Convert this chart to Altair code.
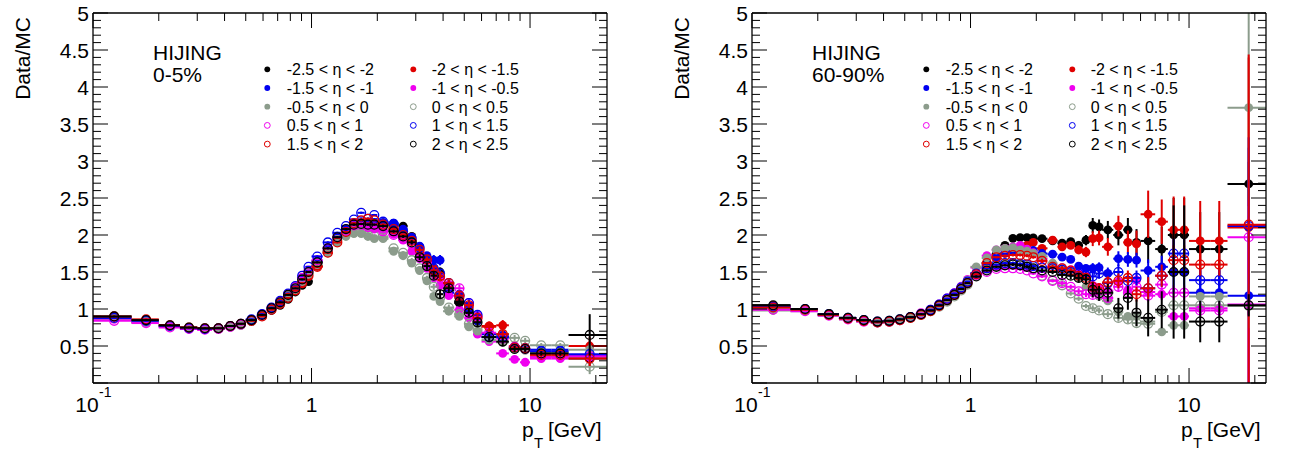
import altair as alt
import pandas as pd

# ---------------- data ----------------
PT_EDGES = [0.1, 0.15, 0.2, 0.25, 0.3, 0.35, 0.4, 0.45, 0.5,
            0.5625, 0.625, 0.6875, 0.75, 0.8125, 0.875, 0.9375, 1.0,
            1.125, 1.25, 1.375, 1.5, 1.625, 1.75, 1.875, 2.0,
            2.25, 2.5, 2.75, 3.0, 3.25, 3.5, 3.75, 4.0,
            4.5, 5.0, 5.5, 6.0, 7.0, 8.0, 9.0, 10.0, 12.5, 15.0, 22.5]

SERIES_LABELS = ["-2.5 < η < -2", "-2 < η < -1.5", "-1.5 < η < -1", "-1 < η < -0.5",
                 "-0.5 < η < 0", "0 < η < 0.5", "0.5 < η < 1", "1 < η < 1.5",
                 "1.5 < η < 2", "2 < η < 2.5"]

# ---- 0-5% panel (Data/MC) ----
L1 = [0.90, 0.85, 0.78, 0.74, 0.73, 0.73, 0.76, 0.79,
      0.83, 0.90, 0.98, 1.05, 1.13, 1.23, 1.32, 1.37,
      1.58, 1.78, 1.93, 2.05, 2.13, 2.16, 2.17, 2.16,
      2.15, 2.14, 2.12, 1.98, 1.72, 1.65, 1.45, 1.50,
      1.25, 1.08, 0.98, 0.84, 0.66, 0.62, 0.47, 0.46,
      0.40, 0.40, 0.33]
L2 = [0.89, 0.85, 0.78, 0.75, 0.74, 0.74, 0.76, 0.79,
      0.84, 0.90, 0.99, 1.07, 1.16, 1.25, 1.35, 1.44,
      1.58, 1.76, 1.92, 2.05, 2.14, 2.17, 2.17, 2.16,
      2.14, 2.10, 2.04, 1.97, 1.82, 1.68, 1.55, 1.44,
      1.33, 1.15, 1.02, 0.88, 0.77, 0.78, 0.50, 0.48,
      0.36, 0.36, 0.50]
L3 = [0.87, 0.83, 0.77, 0.73, 0.73, 0.73, 0.76, 0.79,
      0.84, 0.91, 1.00, 1.08, 1.17, 1.28, 1.40, 1.50,
      1.65, 1.83, 1.97, 2.07, 2.14, 2.16, 2.17, 2.17,
      2.17, 2.16, 2.08, 1.97, 1.85, 1.72, 1.66, 1.66,
      1.22, 1.20, 1.00, 0.84, 0.66, 0.65, 0.47, 0.46,
      0.45, 0.45, 0.38]
L4 = [0.86, 0.82, 0.76, 0.73, 0.72, 0.73, 0.75, 0.78,
      0.83, 0.90, 0.99, 1.08, 1.18, 1.29, 1.40, 1.50,
      1.62, 1.80, 1.94, 2.04, 2.10, 2.12, 2.10, 2.08,
      2.06, 2.01, 1.93, 1.78, 1.68, 1.55, 1.42, 1.32,
      1.18, 0.99, 0.88, 0.66, 0.56, 0.40, 0.32, 0.28,
      0.33, 0.33, 0.36]
L5 = [0.87, 0.82, 0.76, 0.74, 0.73, 0.73, 0.76, 0.78,
      0.83, 0.90, 0.99, 1.07, 1.16, 1.27, 1.38, 1.47,
      1.60, 1.76, 1.90, 1.98, 2.02, 2.02, 1.98, 1.95,
      1.95, 1.78, 1.72, 1.62, 1.52, 1.38, 1.17, 1.10,
      0.97, 0.90, 0.76, 0.70, 0.58, 0.55, 0.45, 0.44,
      0.42, 0.42, 0.45]
L6 = [0.88, 0.83, 0.77, 0.74, 0.73, 0.73, 0.76, 0.79,
      0.84, 0.91, 1.00, 1.08, 1.17, 1.27, 1.38, 1.48,
      1.62, 1.78, 1.93, 2.01, 2.05, 2.04, 2.00, 1.99,
      1.97, 1.82, 1.76, 1.66, 1.55, 1.42, 1.30, 1.15,
      1.02, 0.93, 0.80, 0.72, 0.62, 0.66, 0.61, 0.57,
      0.51, 0.51, 0.22]
L7 = [0.84, 0.81, 0.75, 0.73, 0.72, 0.73, 0.76, 0.79,
      0.85, 0.92, 1.01, 1.10, 1.20, 1.30, 1.42, 1.52,
      1.66, 1.82, 1.97, 2.06, 2.13, 2.14, 2.11, 2.10,
      2.05, 2.00, 1.95, 1.88, 1.75, 1.62, 1.50, 1.42,
      1.32, 1.28, 1.08, 0.90, 0.68, 0.60, 0.49, 0.46,
      0.35, 0.35, 0.36]
L8 = [0.88, 0.84, 0.77, 0.74, 0.73, 0.74, 0.77, 0.80,
      0.86, 0.93, 1.02, 1.11, 1.21, 1.31, 1.45, 1.57,
      1.71, 1.90, 2.03, 2.12, 2.21, 2.30, 2.22, 2.27,
      2.18, 2.15, 2.05, 1.95, 1.83, 1.68, 1.55, 1.48,
      1.35, 1.18, 1.08, 0.92, 0.62, 0.62, 0.48, 0.47,
      0.43, 0.43, 0.39]
L9 = [0.90, 0.86, 0.78, 0.75, 0.74, 0.74, 0.77, 0.80,
      0.84, 0.90, 0.99, 1.07, 1.15, 1.25, 1.35, 1.45,
      1.57, 1.76, 1.90, 2.04, 2.16, 2.20, 2.22, 2.20,
      2.14, 2.08, 2.00, 1.92, 1.80, 1.67, 1.52, 1.44,
      1.35, 1.18, 1.05, 0.88, 0.76, 0.66, 0.48, 0.47,
      0.38, 0.38, 0.33]
L10 = [0.90, 0.85, 0.78, 0.75, 0.74, 0.74, 0.77, 0.80,
       0.85, 0.92, 1.01, 1.09, 1.19, 1.28, 1.40, 1.50,
       1.63, 1.82, 1.97, 2.08, 2.14, 2.15, 2.14, 2.14,
       2.12, 2.05, 1.98, 1.90, 1.70, 1.58, 1.45, 1.20,
       1.28, 1.10, 0.95, 0.82, 0.62, 0.56, 0.46, 0.46,
       0.40, 0.40, 0.65]

L_ERR_LOW = [0.01, 0.01, 0.01, 0.01, 0.01, 0.01, 0.01, 0.01,
             0.01, 0.01, 0.01, 0.01, 0.01, 0.01, 0.01, 0.01,
             0.015, 0.015, 0.015, 0.015, 0.015, 0.015, 0.015, 0.015,
             0.02, 0.02, 0.02, 0.03]
LT1 = [0.04, 0.05, 0.05, 0.06, 0.05, 0.05, 0.05, 0.05, 0.05, 0.06, 0.04, 0.04, 0.03, 0.03, 0.10]
LT2 = [0.04, 0.05, 0.05, 0.06, 0.05, 0.05, 0.05, 0.05, 0.06, 0.07, 0.04, 0.04, 0.03, 0.03, 0.12]
LT3 = [0.04, 0.05, 0.07, 0.07, 0.05, 0.05, 0.05, 0.05, 0.05, 0.06, 0.04, 0.04, 0.03, 0.03, 0.10]
LT4 = [0.03, 0.03, 0.04, 0.04, 0.04, 0.04, 0.04, 0.04, 0.04, 0.04, 0.03, 0.03, 0.02, 0.02, 0.08]
LT5 = [0.03, 0.03, 0.04, 0.04, 0.04, 0.04, 0.04, 0.04, 0.04, 0.04, 0.03, 0.03, 0.02, 0.02, 0.08]
LT6 = [0.03, 0.03, 0.04, 0.04, 0.04, 0.04, 0.04, 0.04, 0.04, 0.05, 0.04, 0.04, 0.03, 0.03, 0.10]
LT7 = [0.03, 0.04, 0.04, 0.05, 0.05, 0.05, 0.05, 0.05, 0.05, 0.05, 0.04, 0.04, 0.03, 0.03, 0.08]
LT8 = [0.04, 0.04, 0.05, 0.05, 0.05, 0.05, 0.05, 0.05, 0.05, 0.05, 0.04, 0.04, 0.03, 0.03, 0.08]
LT9 = [0.04, 0.04, 0.05, 0.05, 0.05, 0.05, 0.05, 0.05, 0.06, 0.06, 0.04, 0.04, 0.03, 0.03, 0.10]
LT10 = [0.04, 0.05, 0.05, 0.06, 0.05, 0.05, 0.05, 0.05, 0.05, 0.06, 0.04, 0.04, 0.03, 0.03, 0.28]

# ---- 60-90% panel (Data/MC) ----
R1 = [1.05, 1.00, 0.93, 0.88, 0.85, 0.83, 0.84, 0.86,
      0.89, 0.93, 0.98, 1.05, 1.12, 1.20, 1.28, 1.37,
      1.48, 1.62, 1.74, 1.86, 1.955, 1.965, 1.965, 1.96,
      1.95, 1.92, 1.89, 1.91, 1.86, 1.93, 2.13, 2.11,
      2.07, 2.00, 2.07, 1.90, 1.92, 1.81, 2.00, 2.00,
      1.81, 1.81, 2.69]
R2 = [1.04, 1.00, 0.93, 0.87, 0.84, 0.82, 0.83, 0.85,
      0.89, 0.93, 0.98, 1.04, 1.11, 1.18, 1.26, 1.34,
      1.46, 1.58, 1.68, 1.75, 1.79, 1.82, 1.86, 1.90,
      1.82, 1.93, 1.84, 1.86, 1.80, 1.77, 1.95, 1.96,
      1.84, 2.12, 1.90, 1.88, 2.28, 2.18, 2.07, 2.07,
      1.92, 1.92, 2.10]
R3 = [1.03, 0.99, 0.92, 0.87, 0.84, 0.82, 0.83, 0.85,
      0.89, 0.93, 0.98, 1.05, 1.12, 1.20, 1.28, 1.37,
      1.48, 1.60, 1.70, 1.76, 1.79, 1.80, 1.80, 1.79,
      1.75, 1.74, 1.70, 1.67, 1.58, 1.55, 1.55, 1.56,
      1.48, 1.68, 1.67, 1.66, 1.52, 1.57, 1.50, 1.50,
      1.22, 1.22, 1.18]
R4 = [1.02, 0.99, 0.92, 0.87, 0.84, 0.82, 0.83, 0.85,
      0.89, 0.94, 0.99, 1.06, 1.14, 1.22, 1.31, 1.40,
      1.56, 1.72, 1.80, 1.82, 1.84, 1.86, 1.81, 1.76,
      1.68, 1.60, 1.56, 1.53, 1.48, 1.45, 1.32, 1.29,
      1.25, 1.37, 1.26, 1.39, 1.23, 1.20, 0.90, 0.90,
      1.01, 1.01, 1.06]
R5 = [0.98, 0.97, 0.91, 0.86, 0.83, 0.82, 0.83, 0.85,
      0.88, 0.93, 0.98, 1.05, 1.13, 1.21, 1.30, 1.39,
      1.57, 1.69, 1.80, 1.82, 1.83, 1.80, 1.78, 1.75,
      1.71, 1.62, 1.55, 1.50, 1.42, 1.30, 1.22, 1.17,
      1.11, 0.96, 0.90, 0.90, 0.83, 0.69, 0.78, 0.78,
      1.17, 1.17, 3.72]
R6 = [1.00, 0.98, 0.92, 0.87, 0.84, 0.82, 0.83, 0.85,
      0.88, 0.92, 0.97, 1.03, 1.10, 1.17, 1.25, 1.33,
      1.45, 1.53, 1.58, 1.61, 1.62, 1.61, 1.58, 1.54,
      1.45, 1.39, 1.32, 1.21, 1.14, 1.04, 1.01, 0.98,
      0.93, 0.88, 0.86, 0.81, 0.80, 0.96, 1.05, 1.05,
      1.05, 1.05, 1.04]
R7 = [0.99, 0.97, 0.91, 0.86, 0.83, 0.82, 0.83, 0.85,
      0.89, 0.94, 0.99, 1.06, 1.14, 1.21, 1.28, 1.36,
      1.46, 1.50, 1.54, 1.55, 1.55, 1.54, 1.52, 1.48,
      1.44, 1.38, 1.35, 1.30, 1.24, 1.20, 1.19, 1.20,
      1.15, 1.30, 1.22, 1.30, 1.18, 1.33, 1.22, 1.22,
      0.98, 0.98, 1.97]
R8 = [1.03, 1.00, 0.93, 0.88, 0.85, 0.83, 0.84, 0.86,
      0.89, 0.93, 0.99, 1.06, 1.14, 1.21, 1.29, 1.37,
      1.48, 1.55, 1.60, 1.62, 1.62, 1.61, 1.60, 1.58,
      1.56, 1.55, 1.53, 1.50, 1.48, 1.45, 1.44, 1.48,
      1.35, 1.50, 1.38, 1.42, 1.28, 1.45, 1.75, 1.75,
      1.39, 1.39, 2.12]
R9 = [1.02, 0.99, 0.92, 0.87, 0.84, 0.82, 0.83, 0.85,
      0.88, 0.92, 0.97, 1.04, 1.12, 1.19, 1.27, 1.35,
      1.47, 1.62, 1.70, 1.72, 1.73, 1.73, 1.72, 1.70,
      1.65, 1.57, 1.55, 1.52, 1.45, 1.42, 1.30, 1.28,
      1.36, 1.38, 1.42, 1.20, 1.28, 1.45, 1.66, 1.66,
      1.60, 1.60, 2.14]
R10 = [1.05, 1.00, 0.93, 0.88, 0.85, 0.83, 0.84, 0.86,
       0.89, 0.93, 0.98, 1.05, 1.12, 1.19, 1.27, 1.35,
       1.44, 1.52, 1.57, 1.59, 1.60, 1.59, 1.57, 1.55,
       1.52, 1.50, 1.46, 1.45, 1.42, 1.40, 1.26, 1.21,
       1.22, 1.01, 1.15, 0.95, 0.88, 0.99, 1.50, 1.50,
       0.83, 0.83, 1.05]

R_ERR_LOW = [0.01, 0.01, 0.01, 0.01, 0.01, 0.01, 0.01, 0.01,
             0.01, 0.01, 0.01, 0.01, 0.01, 0.01, 0.01, 0.01,
             0.015, 0.015, 0.015, 0.015, 0.02, 0.02, 0.02, 0.02]
RT1 = [0.03, 0.03, 0.04, 0.05, 0.06, 0.07, 0.10, 0.10, 0.12, 0.14, 0.16, 0.18, 0.30, 0.30, 0.50, 0.50, 0.50, 0.50, 0.30]
RT2 = [0.03, 0.03, 0.04, 0.05, 0.06, 0.07, 0.10, 0.10, 0.12, 0.14, 0.16, 0.18, 0.32, 0.30, 0.45, 0.45, 0.54, 0.54, 2.30]
RT3 = [0.03, 0.03, 0.03, 0.04, 0.05, 0.05, 0.07, 0.07, 0.08, 0.10, 0.10, 0.10, 0.15, 0.15, 0.30, 0.30, 0.30, 0.30, 2.00]
RT4 = [0.02, 0.02, 0.03, 0.03, 0.04, 0.04, 0.05, 0.05, 0.06, 0.07, 0.07, 0.07, 0.08, 0.08, 0.05, 0.05, 0.05, 0.05, 1.20]
RT5 = [0.02, 0.02, 0.02, 0.03, 0.03, 0.03, 0.04, 0.04, 0.04, 0.05, 0.05, 0.05, 0.05, 0.05, 0.05, 0.05, 0.05, 0.05, 1.50]
RT6 = [0.02, 0.02, 0.02, 0.03, 0.03, 0.03, 0.04, 0.04, 0.04, 0.05, 0.05, 0.05, 0.05, 0.05, 0.05, 0.05, 0.05, 0.05, 0.30]
RT7 = [0.02, 0.02, 0.03, 0.03, 0.04, 0.04, 0.05, 0.05, 0.06, 0.07, 0.07, 0.07, 0.08, 0.08, 0.10, 0.10, 0.10, 0.10, 0.50]
RT8 = [0.03, 0.03, 0.03, 0.04, 0.05, 0.05, 0.07, 0.07, 0.08, 0.10, 0.10, 0.10, 0.15, 0.15, 0.20, 0.20, 0.15, 0.15, 1.20]
RT9 = [0.03, 0.03, 0.03, 0.04, 0.05, 0.05, 0.07, 0.07, 0.08, 0.10, 0.10, 0.10, 0.15, 0.15, 0.20, 0.20, 0.15, 0.15, 2.30]
RT10 = [0.03, 0.03, 0.04, 0.05, 0.06, 0.07, 0.10, 0.10, 0.12, 0.14, 0.16, 0.18, 0.25, 0.25, 0.90, 0.90, 0.28, 0.28, 0.15]

Y_TICK_VALUES = [0.5, 1, 1.5, 2, 2.5, 3, 3.5, 4, 4.5, 5]
Y_TICK_LABELS = ["0.5", "1", "1.5", "2", "2.5", "3", "3.5", "4", "4.5", "5"]
X_TICK_VALUES = [1, 10]
X_TICK_LABELS = ["1", "10"]
Y_MAJOR = [0, 0.5, 1, 1.5, 2, 2.5, 3, 3.5, 4, 4.5, 5]
Y_MINOR = [round(0.1 * i, 1) for i in range(1, 50) if i % 5 != 0]
X_MAJOR = [0.1, 1, 10]
X_MINOR = [0.2, 0.3, 0.4, 0.5, 0.6, 0.7, 0.8, 0.9, 2, 3, 4, 5, 6, 7, 8, 9, 20]

PANEL_TITLES = ["0-5%", "60-90%"]

# ---------------- styling ----------------
BLACK, RED, BLUE, MAGENTA, GREY = "#000000", "#e00000", "#0000f0", "#f000f0", "#8c9c8c"
SERIES_COLORS = [BLACK, RED, BLUE, MAGENTA, GREY, GREY, MAGENTA, BLUE, RED, BLACK]
SERIES_FILLED = [True, True, True, True, True, False, False, False, False, False]
FONT = "Liberation Sans"

W, H = 1289, 452
TOP, BOTTOM = 13, 383
PANEL_X = [(93, 607), (752, 1266)]
PANEL_DX = [0, 659]

lo_edges = PT_EDGES[:-1]
hi_edges = PT_EDGES[1:]
centers = [(a + b) / 2 for a, b in zip(lo_edges, hi_edges)]

panel_values = [[L1, L2, L3, L4, L5, L6, L7, L8, L9, L10],
                [R1, R2, R3, R4, R5, R6, R7, R8, R9, R10]]
panel_errors = [[L_ERR_LOW + t for t in [LT1, LT2, LT3, LT4, LT5, LT6, LT7, LT8, LT9, LT10]],
                [R_ERR_LOW + t for t in [RT1, RT2, RT3, RT4, RT5, RT6, RT7, RT8, RT9, RT10]]]

for vals, errs in zip(panel_values, panel_errors):
    for v, e in zip(vals, errs):
        assert len(v) == 43 and len(e) == 43, (len(v), len(e))

YS = alt.Scale(domain=[0, 5], range=[BOTTOM, TOP], nice=False, zero=False, clamp=True)


def xscale(i):
    x0, x1 = PANEL_X[i]
    return alt.Scale(type="log", domain=[0.1, 22.5], range=[x0, x1], nice=False)


def one_row():
    return pd.DataFrame({"k": [0]})


def text_layer(txt, x, y, size, align="left", baseline="alphabetic", angle=0):
    return alt.Chart(pd.DataFrame({"t": [txt]})).mark_text(
        font=FONT, fontSize=size, align=align, baseline=baseline, angle=angle, color="black"
    ).encode(x=alt.value(x), y=alt.value(y), text="t:N")


layers = []
for pi in range(2):
    xs = xscale(pi)
    x0, x1 = PANEL_X[pi]
    dx = PANEL_DX[pi]

    # data series: horizontal bin bars, vertical error bars, markers
    for si in range(10):
        v = panel_values[pi][si]
        e = panel_errors[pi][si]
        df = pd.DataFrame({
            "lo": lo_edges, "hi": hi_edges, "pt": centers, "val": v,
            "ylo": [a - b for a, b in zip(v, e)], "yhi": [a + b for a, b in zip(v, e)],
        })
        col = SERIES_COLORS[si]
        base = alt.Chart(df)
        layers.append(base.mark_rule(color=col, strokeWidth=2).encode(
            x=alt.X("lo:Q", scale=xs, axis=None), x2="hi:Q",
            y=alt.Y("val:Q", scale=YS, axis=None)))
        layers.append(base.mark_rule(color=col, strokeWidth=2).encode(
            x=alt.X("pt:Q", scale=xs, axis=None),
            y=alt.Y("ylo:Q", scale=YS, axis=None), y2="yhi:Q"))
        layers.append(base.mark_point(shape="circle", size=78, filled=SERIES_FILLED[si],
                                      color=col, opacity=1, strokeWidth=1.3).encode(
            x=alt.X("pt:Q", scale=xs, axis=None),
            y=alt.Y("val:Q", scale=YS, axis=None)))

    # frame
    fr = alt.Chart(one_row())
    for xv in [0.1, 22.5]:
        layers.append(fr.mark_rule(color="black", strokeWidth=1.3).encode(
            x=alt.X(datum=xv, scale=xs, axis=None),
            y=alt.Y(datum=0, scale=YS, axis=None), y2=alt.Y2(datum=5)))
    for yv in [0, 5]:
        layers.append(fr.mark_rule(color="black", strokeWidth=1.3).encode(
            x=alt.X(datum=0.1, scale=xs, axis=None), x2=alt.X2(datum=22.5),
            y=alt.Y(datum=yv, scale=YS, axis=None)))

    # inward ticks (ROOT style)
    for vals_t, ln in [(Y_MAJOR, 15), (Y_MINOR, 8)]:
        d = pd.DataFrame({"v": vals_t})
        layers.append(alt.Chart(d).mark_rule(color="black", strokeWidth=1).encode(
            y=alt.Y("v:Q", scale=YS, axis=None), x=alt.value(x0), x2=alt.value(x0 + ln)))
        layers.append(alt.Chart(d).mark_rule(color="black", strokeWidth=1).encode(
            y=alt.Y("v:Q", scale=YS, axis=None), x=alt.value(x1 - ln), x2=alt.value(x1)))
    for vals_t, ln in [(X_MAJOR, 15), (X_MINOR, 8)]:
        d = pd.DataFrame({"v": vals_t})
        layers.append(alt.Chart(d).mark_rule(color="black", strokeWidth=1).encode(
            x=alt.X("v:Q", scale=xs, axis=None), y=alt.value(BOTTOM - ln), y2=alt.value(BOTTOM)))
        layers.append(alt.Chart(d).mark_rule(color="black", strokeWidth=1).encode(
            x=alt.X("v:Q", scale=xs, axis=None), y=alt.value(TOP), y2=alt.value(TOP + ln)))

    # tick labels
    yl = pd.DataFrame({"v": Y_TICK_VALUES, "t": Y_TICK_LABELS})
    layers.append(alt.Chart(yl).mark_text(font=FONT, fontSize=21, align="right",
                                          baseline="alphabetic", dy=7.5, color="black").encode(
        x=alt.value(x0 - 4), y=alt.Y("v:Q", scale=YS, axis=None), text="t:N"))
    xl = pd.DataFrame({"v": X_TICK_VALUES, "t": X_TICK_LABELS})
    layers.append(alt.Chart(xl).mark_text(font=FONT, fontSize=21, align="center",
                                          baseline="alphabetic", color="black").encode(
        x=alt.X("v:Q", scale=xs, axis=None), y=alt.value(412), text="t:N"))
    x01 = pd.DataFrame({"v": [0.1], "t": ["10"], "s": ["-1"]})
    layers.append(alt.Chart(x01).mark_text(font=FONT, fontSize=21, align="center",
                                           baseline="alphabetic", dx=-6, color="black").encode(
        x=alt.X("v:Q", scale=xs, axis=None), y=alt.value(412), text="t:N"))
    layers.append(alt.Chart(x01).mark_text(font=FONT, fontSize=14, align="left",
                                           baseline="alphabetic", dx=6, color="black").encode(
        x=alt.X("v:Q", scale=xs, axis=None), y=alt.value(397), text="s:N"))

    # axis titles
    layers.append(text_layer("Data/MC", 30 + dx, 17, 21, align="right", angle=270))
    layers.append(text_layer("p", 522 + dx, 437, 21))
    layers.append(text_layer("T", 534 + dx, 448, 15))
    layers.append(text_layer("[GeV]", 548 + dx, 437, 21))

    # panel labels
    layers.append(text_layer("HIJING", 153 + dx, 60, 21))
    layers.append(text_layer(PANEL_TITLES[pi], 153 + dx, 82, 21))

    # legend (2 columns x 5 rows)
    for si, lab in enumerate(SERIES_LABELS):
        r, c = si // 2, si % 2
        cy = 69.3 + r * 18.7
        mx = 267.3 + c * 146 + dx
        tx = 286.7 + c * 145 + dx
        layers.append(alt.Chart(one_row()).mark_point(
            shape="circle", size=34, filled=SERIES_FILLED[si], color=SERIES_COLORS[si],
            opacity=1, strokeWidth=1).encode(x=alt.value(mx), y=alt.value(cy)))
        layers.append(text_layer(lab, tx, cy + 5.8, 16))

chart = alt.layer(*layers).resolve_scale(x="independent").properties(
    width=W, height=H, padding=0,
    autosize=alt.AutoSizeParams(type="none"),
    background="white",
).configure_view(stroke=None)

chart.save("out.html", embed_options={"renderer": "svg", "actions": False})
